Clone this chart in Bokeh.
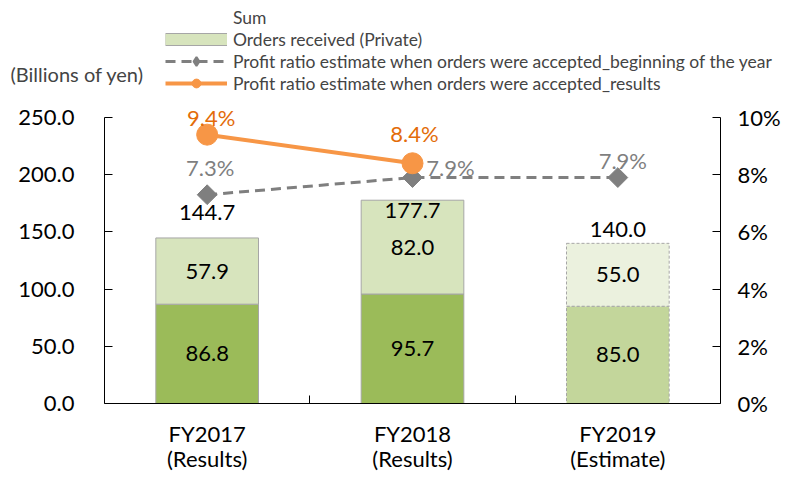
import numpy as np
from bokeh.plotting import figure
from bokeh.models import (ColumnDataSource, Range1d, LinearAxis, FixedTicker,
                          NumeralTickFormatter, PrintfTickFormatter, Legend,
                          LegendItem, Label, CDSView, IndexFilter)
from bokeh.core.properties import value
from bokeh.embed import file_html
from bokeh.resources import INLINE

# ---------------- data ----------------
categories = ["FY2017\n(Results)", "FY2018\n(Results)", "FY2019\n(Estimate)"]
is_estimate = [False, False, True]
orders_base = [86.8, 95.7, 85.0]          # lower segment
orders_private = [57.9, 82.0, 55.0]       # Orders received (Private)
orders_sum = [144.7, 177.7, 140.0]        # Sum
ratio_beginning = [7.3, 7.9, 7.9]         # % estimate at beginning of year
ratio_results = [9.4, 8.4]                # % results
y_ticks = [0, 50, 100, 150, 200, 250]
pct_ticks = [0, 2, 4, 6, 8, 10]

# ---------------- layout (pixels) ----------------
W, H = 782, 472
AX_L, AX_R, AX_B, AX_T = 104, 720, 403, 117

# ---------------- styles ----------------
FONT = "Lato"
DARK_GREEN, LIGHT_GREEN = "#9BBB59", "#D7E4BD"
EST_DARK, EST_LIGHT = "#C3D69B", "#EBF1DE"
BORDER = "#A6A6A6"
GRAY, ORANGE, ORANGE_TXT = "#7F7F7F", "#F79646", "#E36C09"
sum_dy = [-25, 10, -14]
beg_dx, beg_dy = [3, 38, 5], [-27, -10, -17]
res_dx, res_dy = [4, 2], [-17, -30]

n = len(categories)
x = np.arange(n) + 0.5
base = np.array(orders_base)
priv = np.array(orders_private)

# data ranges chosen so that the axes sit at the pixel positions above
xs = (AX_R - AX_L) / n
x0, x1 = -AX_L / xs, n + (W - AX_R) / xs
ymax = y_ticks[-1]
ys = (AX_B - AX_T) / ymax
y0, y1 = -(H - AX_B) / ys, AX_B / ys
pmax = pct_ticks[-1]
ps = (AX_B - AX_T) / pmax
p0, p1 = -(H - AX_B) / ps, AX_B / ps

src = ColumnDataSource(dict(
    x=x, base=base, top=base + priv,
    base_mid=base / 2, priv_mid=base + priv / 2,
    base_lbl=[f"{v:.1f}" for v in orders_base],
    priv_lbl=[f"{v:.1f}" for v in orders_private],
    sum=orders_sum, sum_lbl=[f"{v:.1f}" for v in orders_sum], sum_dy=sum_dy,
))
res_idx = [i for i in range(n) if not is_estimate[i]]
est_idx = [i for i in range(n) if is_estimate[i]]
view_res = CDSView(filter=IndexFilter(res_idx))
view_est = CDSView(filter=IndexFilter(est_idx))

p = figure(frame_width=W, frame_height=H,
           x_range=Range1d(x0, x1), y_range=Range1d(y0, y1),
           output_backend="svg", toolbar_location=None,
           x_axis_type=None, y_axis_type=None, min_border=0)
p.extra_y_ranges = {"pct": Range1d(p0, p1)}
p.xgrid.visible = False
p.ygrid.visible = False
p.outline_line_color = None

# bars
bw = 0.5
p.vbar(x="x", bottom=0, top="base", width=bw, source=src, view=view_res,
       fill_color=DARK_GREEN, line_color=BORDER, line_width=1)
p.vbar(x="x", bottom="base", top="top", width=bw, source=src, view=view_res,
       fill_color=LIGHT_GREEN, line_color=BORDER, line_width=1)
p.vbar(x="x", bottom=0, top="base", width=bw, source=src, view=view_est,
       fill_color=EST_DARK, line_color=BORDER, line_width=1, line_dash="3 2")
p.vbar(x="x", bottom="base", top="top", width=bw, source=src, view=view_est,
       fill_color=EST_LIGHT, line_color=BORDER, line_width=1, line_dash="3 2")

lbl_kw = dict(text_font=value(FONT), text_font_size="22px", text_align="center",
              text_baseline="middle", text_color="black")
p.text(x="x", y="base_mid", text="base_lbl", source=src, **lbl_kw)
p.text(x="x", y="priv_mid", text="priv_lbl", source=src, **lbl_kw)
p.text(x="x", y="sum", text="sum_lbl", y_offset="sum_dy", source=src, **lbl_kw)

# lines
bsrc = ColumnDataSource(dict(x=x, y=ratio_beginning,
                             lbl=[f"{v:.1f}%" for v in ratio_beginning],
                             dx=beg_dx, dy=beg_dy))
rsrc = ColumnDataSource(dict(x=x[:len(ratio_results)], y=ratio_results,
                             lbl=[f"{v:.1f}%" for v in ratio_results],
                             dx=res_dx, dy=res_dy))
r_bl = p.line(x="x", y="y", source=bsrc, y_range_name="pct", line_color=GRAY,
              line_width=3, line_dash="10 6")
p.scatter(x="x", y="y", source=bsrc, y_range_name="pct", marker="square",
          angle=np.pi / 4, size=14, fill_color=GRAY, line_color=GRAY)
r_rl = p.line(x="x", y="y", source=rsrc, y_range_name="pct", line_color=ORANGE,
              line_width=4)
r_rm = p.scatter(x="x", y="y", source=rsrc, y_range_name="pct", marker="circle",
                 size=21, fill_color=ORANGE, line_color=ORANGE)
pct_kw = dict(text_font=value(FONT), text_font_size="22px", text_align="center",
              text_baseline="middle")
p.text(x="x", y="y", text="lbl", x_offset="dx", y_offset="dy", source=bsrc,
       y_range_name="pct", text_color=GRAY, **pct_kw)
p.text(x="x", y="y", text="lbl", x_offset="dx", y_offset="dy", source=rsrc,
       y_range_name="pct", text_color=ORANGE_TXT, **pct_kw)

# axes (fixed at the data positions of the chart box)
ax_b = LinearAxis(fixed_location=0, bounds=(0, n),
                  ticker=FixedTicker(ticks=list(x), minor_ticks=list(range(1, n))),
                  major_label_overrides={float(v): c for v, c in zip(x, categories)})
ax_l = LinearAxis(fixed_location=0, bounds=(0, ymax),
                  ticker=FixedTicker(ticks=y_ticks),
                  formatter=NumeralTickFormatter(format="0.0"))
ax_r = LinearAxis(fixed_location=n, bounds=(0, pmax), y_range_name="pct",
                  ticker=FixedTicker(ticks=pct_ticks),
                  formatter=PrintfTickFormatter(format="%d%%"))
for ax in [ax_b, ax_l, ax_r]:
    ax.axis_line_color = "black"
    ax.major_tick_line_color = "black"
    ax.minor_tick_line_color = "black"
    ax.major_tick_out = 0
    ax.major_tick_in = 8
    ax.minor_tick_out = 0
    ax.minor_tick_in = 0
    ax.major_label_text_font = FONT
    ax.major_label_text_font_size = "22px"
    ax.major_label_text_color = "black"
ax_b.major_tick_in = 0
ax_b.minor_tick_in = 8
ax_b.major_label_standoff = 16
ax_b.major_label_text_line_height = 0.95
ax_l.major_label_standoff = 30
ax_r.major_label_standoff = 17
p.add_layout(ax_b, "below")
p.add_layout(ax_l, "left")
p.add_layout(ax_r, "right")

# legend (helper renderers draw nothing in the plot, only their legend glyphs)
nan = [np.nan]
r_sum = p.scatter(x=nan, y=nan, size=0, fill_alpha=0, line_alpha=0)
r_lg_border = p.line(x=nan, y=nan, line_width=13, line_color=BORDER)
r_lg_fill = p.line(x=nan, y=nan, line_width=11, line_color=LIGHT_GREEN)
r_lg_diam = p.scatter(x=nan, y=nan, marker="diamond", fill_color=GRAY,
                      line_color=GRAY, line_width=2)
legend = Legend(items=[
    LegendItem(label="Sum", renderers=[r_sum]),
    LegendItem(label="Orders received (Private)", renderers=[r_lg_border, r_lg_fill]),
    LegendItem(label="Profit ratio estimate when orders were accepted_beginning of the year",
               renderers=[r_bl, r_lg_diam]),
    LegendItem(label="Profit ratio estimate when orders were accepted_results",
               renderers=[r_rl, r_rm]),
], location=(165, H - 94), orientation="vertical", glyph_width=62, glyph_height=22,
    spacing=0, padding=0, margin=0, label_standoff=6, label_height=20,
    label_text_font=FONT, label_text_font_size="17.5px",
    background_fill_alpha=0, border_line_alpha=0, inactive_fill_alpha=0)
p.add_layout(legend)

p.add_layout(Label(x=10, y=H - 73, x_units="screen", y_units="screen",
                   text="(Billions of yen)", text_font=FONT, text_font_size="20px",
                   text_baseline="middle", text_align="left"))

open("out.html", "w").write(file_html(p, INLINE))
